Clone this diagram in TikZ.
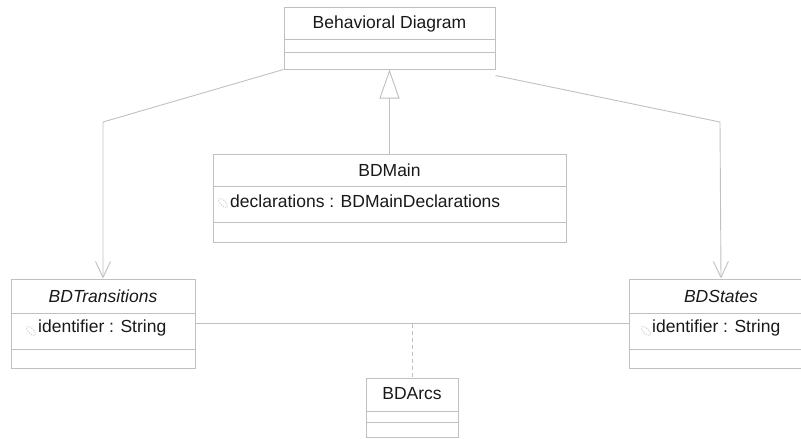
\documentclass[tikz,border=0pt]{standalone}
\usepackage{fontspec}
\setmainfont{Liberation Sans}
\usetikzlibrary{arrows.meta}
\definecolor{linegray}{RGB}{192,192,192}
\definecolor{txt}{RGB}{25,25,25}
\definecolor{icongray}{RGB}{210,210,210}
\begin{document}
\begin{tikzpicture}[x=1pt,y=-1pt,
  umlbox/.style={draw=linegray, line width=1pt, rectangle, inner sep=0pt, fill=white},
  sep/.style={draw=linegray, line width=1pt},
  conn/.style={draw=linegray, line width=0.9pt},
  lbl/.style={inner sep=0pt, text=txt, font=\fontsize{17.5}{20}\selectfont},
  ilbl/.style={lbl, font=\fontsize{17.5}{20}\selectfont\itshape},
  nav/.style={conn, -{Straight Barb[length=16pt,width=15pt,line width=0.9pt]}},
  gen/.style={conn, -{Triangle[open,length=29pt,width=20pt,line width=0.9pt,fill=white]}},
  dep/.style={conn, dash pattern=on 4pt off 3pt},
  icon/.style={draw=icongray, line width=0.8pt, dash pattern=on 1.5pt off 1pt}
]
\path[use as bounding box] (0,0) rectangle (801,439);
\begin{scope}
\clip (0,0) rectangle (801,439);

% Behavioral Diagram
\node[umlbox, minimum width=211pt, minimum height=62pt] (bd) at (389.5,38) {};
\draw[sep] (bd.west |- 0,39) -- (bd.east |- 0,39);
\draw[sep] (bd.west |- 0,52) -- (bd.east |- 0,52);
\node[lbl] (bdt) at (389.5,24) {Behavioral Diagram};

% BDMain
\node[umlbox, minimum width=353pt, minimum height=88pt] (main) at (389.5,198) {};
\draw[sep] (main.west |- 0,186) -- (main.east |- 0,186);
\draw[sep] (main.west |- 0,222) -- (main.east |- 0,222);
\node[lbl] (maint) at (389.5,170) {BDMain};
\draw[icon] (223,203) ellipse [x radius=6pt, y radius=2.5pt, rotate=-45];
\node[lbl, anchor=west] (maina) at (230,201) {declarations : BDMainDeclarations};

% BDTransitions
\node[umlbox, minimum width=184pt, minimum height=89pt] (tr) at (103,323.5) {};
\draw[sep] (tr.west |- 0,313) -- (tr.east |- 0,313);
\draw[sep] (tr.west |- 0,349) -- (tr.east |- 0,349);
\node[ilbl] (trt) at (103,296) {BDTransitions};
\draw[icon] (31,331) ellipse [x radius=6pt, y radius=2.5pt, rotate=-45];
\node[lbl, anchor=west] (tra) at (38,328) {identifier : String};

% BDStates
\node[umlbox, minimum width=184pt, minimum height=89pt] (st) at (721,323.5) {};
\draw[sep] (st.west |- 0,313) -- (st.east |- 0,313);
\draw[sep] (st.west |- 0,349) -- (st.east |- 0,349);
\node[ilbl] (stt) at (721,296) {BDStates};
\draw[icon] (646,331) ellipse [x radius=6pt, y radius=2.5pt, rotate=-45];
\node[lbl, anchor=west] (sta) at (652,328) {identifier : String};

% BDArcs
\node[umlbox, minimum width=92pt, minimum height=59pt] (arcs) at (412,407.5) {};
\draw[sep] (arcs.west |- 0,411) -- (arcs.east |- 0,411);
\draw[sep] (arcs.west |- 0,422) -- (arcs.east |- 0,422);
\node[lbl] (arcst) at (412,394) {BDArcs};

% connectors
\coordinate (lbend) at (103,122);
\coordinate (rbend) at (720,122);
\coordinate (assocmid) at (arcs.north |- tr.east);
\draw[gen] (main.north) -- (bd.south);
\draw[nav] (bd.south west) -- (lbend) -- (tr.north);
\draw[nav] ([yshift=-6pt]bd.south east) -- (rbend) -- (st.north);
\draw[conn] (tr.east) -- (st.west);
\draw[dep] (assocmid) -- (arcs.north);
\end{scope}
\end{tikzpicture}
\end{document}
